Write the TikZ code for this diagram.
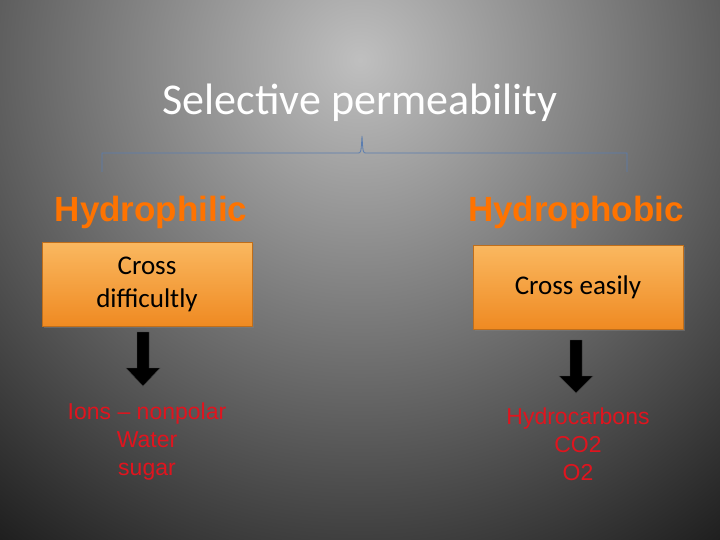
\documentclass[tikz,border=0pt]{standalone}
\usepackage{fontspec}
\setmainfont{Carlito}
\newfontfamily\arialb{Liberation Sans}
\usetikzlibrary{shadows,calc}
\definecolor{boxtop}{HTML}{FAB860}
\definecolor{boxbot}{HTML}{EF8A22}
\definecolor{brk}{HTML}{5A7DB0}
\definecolor{redtxt}{HTML}{E0141E}
\tikzset{
  obox/.style={draw=boxbot!80!black, line width=0.6pt, top color=boxtop, bottom color=boxbot,
    minimum width=210pt, minimum height=84pt, align=center, font=\fontsize{27}{33}\selectfont,
    drop shadow={shadow xshift=2pt, shadow yshift=-2pt, opacity=0.5}},
  head/.style={font=\arialb\bfseries\fontsize{35}{38}\selectfont, text=orange!90!red},
  rtxt/.style={font=\arialb\fontsize{23}{28}\selectfont, text=redtxt, align=center},
  barrow/.style={fill=black, draw=gray!50!black, line width=0.4pt}
}
\begin{document}
\begin{tikzpicture}[x=1pt,y=-1pt]
\useasboundingbox (0,0) rectangle (720,540);
\clip (0,0) rectangle (720,540);
\fill[black!90] (0,0) rectangle (720,540);
\shade[inner color=gray!50, outer color=black!90] (360,60) circle (620);
\node (title) at (360,103) {\fontsize{44}{48}\selectfont\color{white}Selective permeability};
\coordinate (bl) at (102,172);
\coordinate (br) at (627,172);
\coordinate (bm) at (362,136);
\draw[brk, line width=0.8pt] (bl) -- (102,153) -- (358,153) .. controls (361,153) .. (bm) .. controls (363,153) .. (366,153) -- (627,153) -- (br);
\node[head] (hphil) at (151,212) {Hydrophilic};
\node[head] (hphob) at (576,212) {Hydrophobic};
\node[obox] (b1) at (147,284) {Cross\\difficultly};
\node[obox] (b2) at (578,287) {Cross easily};
\coordinate (a1) at (143,332);
\coordinate (a2) at (576,340);
\draw[barrow] ($(a1)+(-6,0)$) -- ++(0,36) -- ++(-11,0) -- ($(a1)+(0,54)$) -- ++(17,-18) -- ++(-11,0) -- ++(0,-36) -- cycle;
\draw[barrow] ($(a2)+(-6,0)$) -- ++(0,36) -- ++(-11,0) -- ($(a2)+(0,53)$) -- ++(17,-17) -- ++(-11,0) -- ++(0,-36) -- cycle;
\node[rtxt] (l1) at (147,442) {Ions – nonpolar\\Water\\sugar};
\node[rtxt] (l2) at (578,444) {Hydrocarbons\\CO2\\O2};
\end{tikzpicture}
\end{document}
